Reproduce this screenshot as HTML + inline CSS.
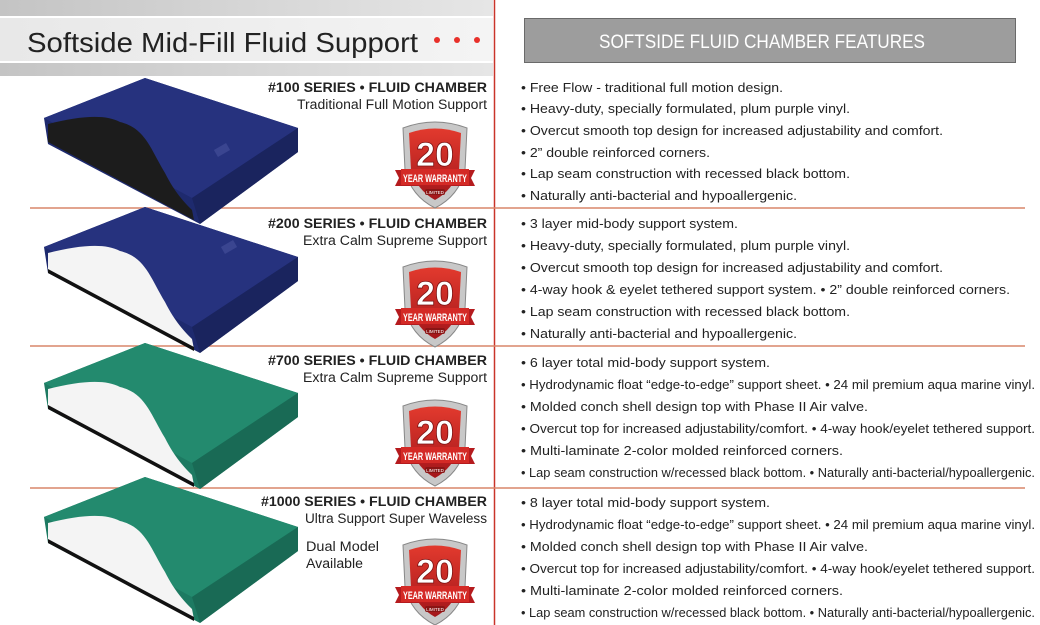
<!DOCTYPE html>
<html><head><meta charset="utf-8"><style>
html,body{margin:0;padding:0;background:#fff;}
svg{display:block;}
text{font-family:"Liberation Sans",sans-serif;}
</style></head><body>
<svg width="1040" height="625" viewBox="0 0 1040 625" xmlns="http://www.w3.org/2000/svg">
<defs>
<linearGradient id="ban" x1="0" y1="0" x2="1" y2="0">
<stop offset="0" stop-color="#c4c4c4"/><stop offset="0.5" stop-color="#d6d6d6"/><stop offset="1" stop-color="#e6e6e6"/></linearGradient>
<linearGradient id="band" x1="0" y1="0" x2="1" y2="0">
<stop offset="0" stop-color="#e8e8e8"/><stop offset="1" stop-color="#f4f4f4"/></linearGradient>
<linearGradient id="shield" x1="0" y1="0" x2="0" y2="1">
<stop offset="0" stop-color="#e23a2e"/><stop offset="1" stop-color="#a3161a"/></linearGradient>
<symbol id="badge" viewBox="0 0 80 92" width="80" height="92">
<path d="M8,10 Q40,-2 72,10 L70,52 Q64,78 40,90 Q16,78 10,52 Z" fill="#c8c8c8" stroke="#888" stroke-width="1"/>
<path d="M14,15 Q40,6 66,15 L64,52 Q58,72 40,82 Q22,72 16,52 Z" fill="url(#shield)"/>
<text x="40" y="48" text-anchor="middle" font-size="34" font-weight="bold" fill="#fff" stroke="#7a1010" stroke-width="0.8">20</text>
<path d="M0,52 L80,52 L76,60 L80,68 L0,68 L4,60 Z" fill="#b51b1e"/>
<rect x="6" y="51" width="68" height="16" fill="#d42a26"/>
<text x="40" y="64" text-anchor="middle" font-size="11" font-weight="bold" fill="#fff" textLength="64" lengthAdjust="spacingAndGlyphs">YEAR WARRANTY</text>
<rect x="30" y="71" width="20" height="6" rx="2" fill="#8a1515"/>
<text x="40" y="76" text-anchor="middle" font-size="4.5" fill="#fff">LIMITED</text>
</symbol>
</defs>

<rect x="0" y="0" width="493" height="76" fill="url(#ban)"/>
<rect x="0" y="16" width="493" height="47" fill="url(#band)"/>
<line x1="0" y1="17" x2="493" y2="17" stroke="#fff" stroke-width="2"/>
<line x1="0" y1="62" x2="493" y2="62" stroke="#fff" stroke-width="2"/>
<text x="27" y="52" font-size="28" fill="#222" textLength="391" lengthAdjust="spacingAndGlyphs">Softside Mid-Fill Fluid Support</text>
<circle cx="437" cy="40" r="3" fill="#e8302a"/>
<circle cx="457" cy="40" r="3" fill="#e8302a"/>
<circle cx="477" cy="40" r="3" fill="#e8302a"/>
<line x1="494.5" y1="0" x2="494.5" y2="625" stroke="#c9342a" stroke-width="1.5"/>

<rect x="524.5" y="18.5" width="491" height="44" fill="#9d9d9d" stroke="#6a6a6a"/>
<text x="599" y="48" font-size="19" fill="#fff" textLength="326" lengthAdjust="spacingAndGlyphs">SOFTSIDE FLUID CHAMBER FEATURES</text>

<g stroke="#d9866a" stroke-width="1.5">
<line x1="30" y1="208" x2="1025" y2="208"/>
<line x1="30" y1="346" x2="1025" y2="346"/>
<line x1="30" y1="488" x2="1025" y2="488"/>
</g>

<g transform="translate(0,78)">
<path d="M44,40 L145,0 L298,50 L298,74 L200,146 L48,66 Z" fill="#1e2a6e"/>
<path d="M44,40 L145,0 L298,50 L192,120 Z" fill="#26327e"/>
<path d="M192,120 L298,50 L298,74 L200,146 Z" fill="#1a245e"/>
<path d="M48,46 C80,38 105,36 120,44 C145,50 150,70 165,95 C175,115 185,125 192,132 L194,142 L48,64 Z" fill="#1c1c1c"/>
<rect x="215" y="68" width="14" height="8" fill="#3a4590" transform="rotate(-30 222 72)"/>
</g>
<g transform="translate(0,207)">
<path d="M44,40 L145,0 L298,50 L298,74 L200,146 L48,66 Z" fill="#1e2a6e"/>
<path d="M44,40 L145,0 L298,50 L192,120 Z" fill="#26327e"/>
<path d="M192,120 L298,50 L298,74 L200,146 Z" fill="#1a245e"/>
<path d="M48,46 C80,38 105,36 120,44 C145,50 150,70 165,95 C175,115 185,125 192,132 L194,142 L48,64 Z" fill="#f4f4f4"/>
<path d="M48,62 L194,140 L194,144 L48,66 Z" fill="#111"/>
<rect x="222" y="36" width="14" height="8" fill="#3a4590" transform="rotate(-30 229 40)"/>
</g>
<g transform="translate(0,343)">
<path d="M44,40 L145,0 L298,50 L298,74 L200,146 L48,66 Z" fill="#1d7a62"/>
<path d="M44,40 L145,0 L298,50 L192,120 Z" fill="#238a6e"/>
<path d="M192,120 L298,50 L298,74 L200,146 Z" fill="#196a55"/>
<path d="M48,46 C80,38 105,36 120,44 C145,50 150,70 165,95 C175,115 185,125 192,132 L194,142 L48,64 Z" fill="#f4f4f4"/>
<path d="M48,62 L194,140 L194,144 L48,66 Z" fill="#111"/>
</g>
<g transform="translate(0,477)">
<path d="M44,40 L145,0 L298,50 L298,74 L200,146 L48,66 Z" fill="#1d7a62"/>
<path d="M44,40 L145,0 L298,50 L192,120 Z" fill="#238a6e"/>
<path d="M192,120 L298,50 L298,74 L200,146 Z" fill="#196a55"/>
<path d="M48,46 C80,38 105,36 120,44 C145,50 150,70 165,95 C175,115 185,125 192,132 L194,142 L48,64 Z" fill="#f4f4f4"/>
<path d="M48,62 L194,140 L194,144 L48,66 Z" fill="#111"/>
</g>

<use href="#badge" x="395" y="118"/>
<use href="#badge" x="395" y="257"/>
<use href="#badge" x="395" y="396"/>
<use href="#badge" x="395" y="535"/>

<g font-size="13.5" fill="#222">
<text x="268" y="92" font-weight="bold" textLength="219" lengthAdjust="spacingAndGlyphs">#100 SERIES • FLUID CHAMBER</text>
<text x="297" y="109" textLength="190" lengthAdjust="spacingAndGlyphs">Traditional Full Motion Support</text>
<text x="268" y="228" font-weight="bold" textLength="219" lengthAdjust="spacingAndGlyphs">#200 SERIES • FLUID CHAMBER</text>
<text x="303" y="245" textLength="184" lengthAdjust="spacingAndGlyphs">Extra Calm Supreme Support</text>
<text x="268" y="365" font-weight="bold" textLength="219" lengthAdjust="spacingAndGlyphs">#700 SERIES • FLUID CHAMBER</text>
<text x="303" y="382" textLength="184" lengthAdjust="spacingAndGlyphs">Extra Calm Supreme Support</text>
<text x="261" y="506" font-weight="bold" textLength="226" lengthAdjust="spacingAndGlyphs">#1000 SERIES • FLUID CHAMBER</text>
<text x="305" y="523" textLength="182" lengthAdjust="spacingAndGlyphs">Ultra Support Super Waveless</text>
<text x="306" y="551" textLength="73" lengthAdjust="spacingAndGlyphs">Dual Model</text>
<text x="306" y="568" textLength="57" lengthAdjust="spacingAndGlyphs">Available</text>
</g>

<g font-size="13" fill="#222">
<text x="521" y="92" textLength="262" lengthAdjust="spacingAndGlyphs">• Free Flow - traditional full motion design.</text>
<text x="521" y="113" textLength="329" lengthAdjust="spacingAndGlyphs">• Heavy-duty, specially formulated, plum purple vinyl.</text>
<text x="521" y="135" textLength="422" lengthAdjust="spacingAndGlyphs">• Overcut smooth top design for increased adjustability and comfort.</text>
<text x="521" y="157" textLength="189" lengthAdjust="spacingAndGlyphs">• 2” double reinforced corners.</text>
<text x="521" y="178" textLength="329" lengthAdjust="spacingAndGlyphs">• Lap seam construction with recessed black bottom.</text>
<text x="521" y="200" textLength="276" lengthAdjust="spacingAndGlyphs">• Naturally anti-bacterial and hypoallergenic.</text>

<text x="521" y="228" textLength="217" lengthAdjust="spacingAndGlyphs">• 3 layer mid-body support system.</text>
<text x="521" y="250" textLength="329" lengthAdjust="spacingAndGlyphs">• Heavy-duty, specially formulated, plum purple vinyl.</text>
<text x="521" y="272" textLength="422" lengthAdjust="spacingAndGlyphs">• Overcut smooth top design for increased adjustability and comfort.</text>
<text x="521" y="294" textLength="489" lengthAdjust="spacingAndGlyphs">• 4-way hook &amp; eyelet tethered support system. • 2” double reinforced corners.</text>
<text x="521" y="316" textLength="329" lengthAdjust="spacingAndGlyphs">• Lap seam construction with recessed black bottom.</text>
<text x="521" y="338" textLength="276" lengthAdjust="spacingAndGlyphs">• Naturally anti-bacterial and hypoallergenic.</text>

<text x="521" y="367" textLength="249" lengthAdjust="spacingAndGlyphs">• 6 layer total mid-body support system.</text>
<text x="521" y="389" textLength="514" lengthAdjust="spacingAndGlyphs">• Hydrodynamic float “edge-to-edge” support sheet. • 24 mil premium aqua marine vinyl.</text>
<text x="521" y="411" textLength="347" lengthAdjust="spacingAndGlyphs">• Molded conch shell design top with Phase II Air valve.</text>
<text x="521" y="433" textLength="514" lengthAdjust="spacingAndGlyphs">• Overcut top for increased adjustability/comfort. • 4-way hook/eyelet tethered support.</text>
<text x="521" y="455" textLength="322" lengthAdjust="spacingAndGlyphs">• Multi-laminate 2-color molded reinforced corners.</text>
<text x="521" y="477" textLength="514" lengthAdjust="spacingAndGlyphs">• Lap seam construction w/recessed black bottom. • Naturally anti-bacterial/hypoallergenic.</text>

<text x="521" y="507" textLength="249" lengthAdjust="spacingAndGlyphs">• 8 layer total mid-body support system.</text>
<text x="521" y="529" textLength="514" lengthAdjust="spacingAndGlyphs">• Hydrodynamic float “edge-to-edge” support sheet. • 24 mil premium aqua marine vinyl.</text>
<text x="521" y="551" textLength="347" lengthAdjust="spacingAndGlyphs">• Molded conch shell design top with Phase II Air valve.</text>
<text x="521" y="573" textLength="514" lengthAdjust="spacingAndGlyphs">• Overcut top for increased adjustability/comfort. • 4-way hook/eyelet tethered support.</text>
<text x="521" y="595" textLength="322" lengthAdjust="spacingAndGlyphs">• Multi-laminate 2-color molded reinforced corners.</text>
<text x="521" y="617" textLength="514" lengthAdjust="spacingAndGlyphs">• Lap seam construction w/recessed black bottom. • Naturally anti-bacterial/hypoallergenic.</text>
</g>
</svg>
</body></html>
